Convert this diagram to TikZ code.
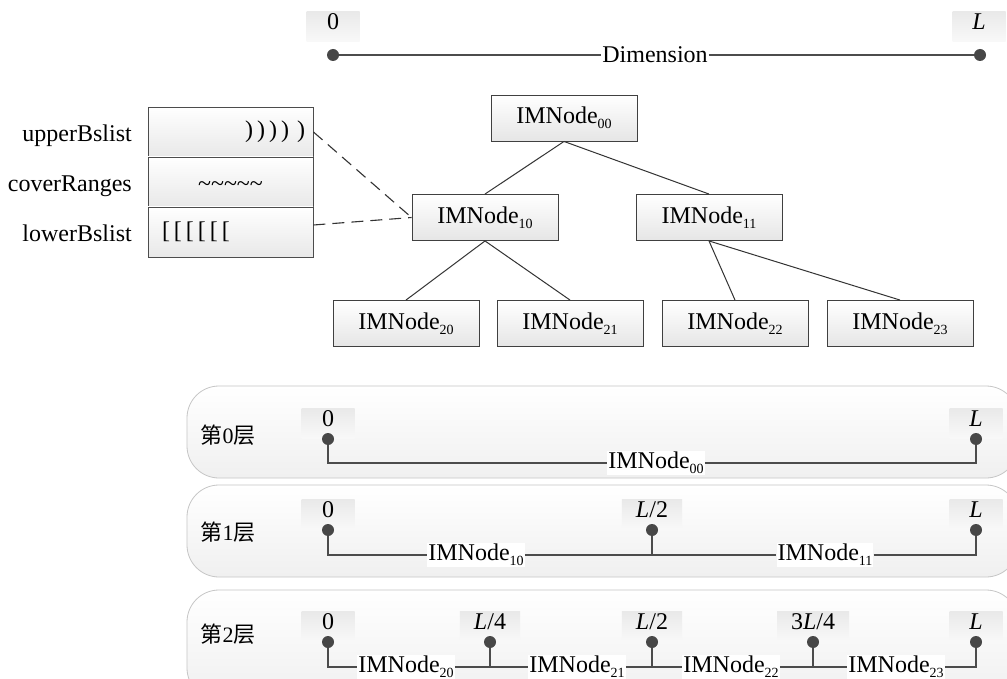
\documentclass[tikz,border=0pt]{standalone}
\usepackage{fontspec}
\setmainfont{Liberation Serif}
\newfontfamily\cjk{Noto Sans CJK SC}
\newcommand\ssub[1]{\raisebox{-5pt}{\fontsize{14}{14}\selectfont #1}}
\newcommand\imn[1]{IMNode\ssub{#1}}
\begin{document}
\begin{tikzpicture}[x=1pt,y=-1pt,
  font=\fontsize{24}{28}\selectfont,
  tnode/.style={draw=black!75, line width=0.9pt, top color=white, bottom color=gray!20,
    minimum width=146pt, minimum height=46pt, inner sep=0pt},
  rowbox/.style={draw=black!70, line width=0.9pt, top color=white, bottom color=gray!18,
    minimum width=165pt, minimum height=50pt, inner ysep=0pt},
  lbl/.style={top color=gray!17, bottom color=gray!5, minimum width=53pt, minimum height=30pt,
    inner xsep=14pt, inner ysep=2pt, text height=16pt, text depth=10pt, anchor=south},
  dotn/.style={circle, fill=black!72, minimum size=12pt, inner sep=0pt},
  seg/.style={fill=white, inner sep=1pt},
  panel/.style={draw=gray!45, line width=0.8pt, rounded corners=32pt, top color=white, bottom color=gray!12},
  dline/.style={draw=black!70, line width=1.4pt},
  tline/.style={draw=black!80, line width=1pt},
  dashline/.style={draw=black!80, line width=1.1pt, dash pattern=on 12pt off 7pt},
  layer/.style={font=\fontsize{22}{22}\selectfont}
]
\clip (0,0) rectangle (1007,679);
\fill[white] (0,0) rectangle (1007,679);

% ---------- top dimension line ----------
\node[lbl] (t0l) at (333,42) {0};
\node[lbl] (tLl) at (979,42) {\textit{L}};
\node[dotn] (td0) at (333,55) {};
\node[dotn] (tdL) at (980,55) {};
\node[seg] (dim) at (655,55) {Dimension};
\draw[dline] (td0) -- (dim) -- (tdL);

% ---------- list box ----------
\node[rowbox, text width=149pt, inner xsep=8pt, align=right] (r1) at (230.5,132) {)\,)\,)\,)~)};
\node[rowbox, align=center, text height=18.4pt, text depth=0pt] (r2) at (230.5,182) {\textasciitilde\textasciitilde\textasciitilde\textasciitilde\textasciitilde};
\node[rowbox, text width=137pt, inner xsep=14pt, align=left] (r3) at (230.5,232) {[\,[\,[\,[\,[\,[};
\node[anchor=base east, inner sep=0pt] (lu) at (132,142) {upperBslist};
\node[anchor=base east, inner sep=0pt] (lc) at (132,192) {coverRanges};
\node[anchor=base east, inner sep=0pt] (ll) at (132,242) {lowerBslist};

% ---------- tree ----------
\node[tnode] (n00) at (564,118) {\imn{00}};
\node[tnode] (n10) at (485,217.5) {\imn{10}};
\node[tnode] (n11) at (709,217.5) {\imn{11}};
\node[tnode] (n20) at (406,323.5) {\imn{20}};
\node[tnode] (n21) at (570,323.5) {\imn{21}};
\node[tnode] (n22) at (735,323.5) {\imn{22}};
\node[tnode] (n23) at (900,323.5) {\imn{23}};
\draw[tline] (n00.south) -- (n10.north);
\draw[tline] (n00.south) -- (n11.north);
\draw[tline] (n10.south) -- (n20.north);
\draw[tline] (n10.south) -- (n21.north);
\draw[tline] (n11.south) -- (n22.north);
\draw[tline] (n11.south) -- (n23.north);
\draw[dashline] (r1.east) -- (n10.west);
\draw[dashline] ([yshift=7pt]r3.east) -- (n10.west);

% ---------- panels ----------
\draw[panel] (187,386) rectangle (1018,478);
\draw[panel] (187,485) rectangle (1018,577);
\draw[panel] (187,590) rectangle (1018,700);

% panel 0
\node[layer] (L0) at (228,435) {{\cjk 第}0{\cjk 层}};
\node[lbl] (p0t0) at (328,439) {0};
\node[lbl] (p0tL) at (976,439) {\textit{L}};
\node[dotn] (p0d0) at (328,439) {};
\node[dotn] (p0dL) at (976,439) {};
\node[seg] (p0m) at (656,463) {\imn{00}};
\draw[dline] (p0d0) |- (p0m) -| (p0dL);

% panel 1
\node[layer] (L1) at (228,532) {{\cjk 第}1{\cjk 层}};
\node[lbl] (p1t0) at (328,530) {0};
\node[lbl] (p1tM) at (652,530) {\textit{L}/2};
\node[lbl] (p1tL) at (976,530) {\textit{L}};
\node[dotn] (p1d0) at (328,530) {};
\node[dotn] (p1dM) at (652,530) {};
\node[dotn] (p1dL) at (976,530) {};
\coordinate (p1j) at (652,555);
\node[seg] (p1a) at (476,555) {\imn{10}};
\node[seg] (p1b) at (825,555) {\imn{11}};
\draw[dline] (p1d0) |- (p1a) -- (p1j) -- (p1b) -| (p1dL);
\draw[dline] (p1dM) -- (p1j);

% panel 2
\node[layer] (L2) at (228,634) {{\cjk 第}2{\cjk 层}};
\node[lbl] (p2t0) at (328,642) {0};
\node[lbl] (p2t1) at (490,642) {\textit{L}/4};
\node[lbl] (p2t2) at (652,642) {\textit{L}/2};
\node[lbl] (p2t3) at (813,642) {3\textit{L}/4};
\node[lbl] (p2t4) at (976,642) {\textit{L}};
\node[dotn] (q0) at (328,642) {};
\node[dotn] (q1) at (490,642) {};
\node[dotn] (q2) at (652,642) {};
\node[dotn] (q3) at (813,642) {};
\node[dotn] (q4) at (976,642) {};
\coordinate (j1) at (490,667);
\coordinate (j2) at (652,667);
\coordinate (j3) at (813,667);
\node[seg] (s20) at (406,667) {\imn{20}};
\node[seg] (s21) at (577,667) {\imn{21}};
\node[seg] (s22) at (731,667) {\imn{22}};
\node[seg] (s23) at (896,667) {\imn{23}};
\draw[dline] (q0) |- (s20) -- (j1) -- (s21) -- (j2) -- (s22) -- (j3) -- (s23) -| (q4);
\draw[dline] (q1) -- (j1);
\draw[dline] (q2) -- (j2);
\draw[dline] (q3) -- (j3);
\end{tikzpicture}
\end{document}
